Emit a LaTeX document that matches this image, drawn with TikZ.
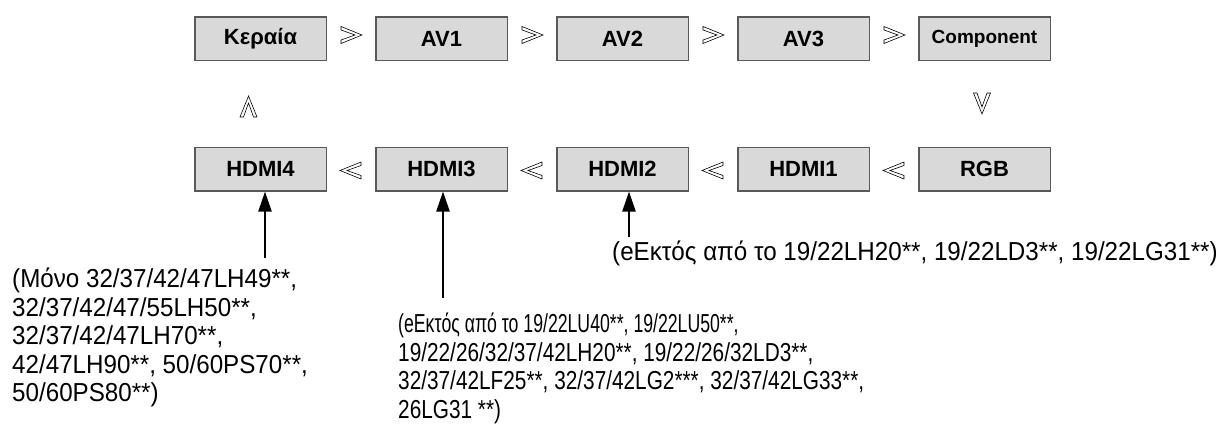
\documentclass[tikz,border=0pt]{standalone}
\usepackage{fontspec}
\setmainfont{Liberation Sans}
\newfontfamily\notefont[FakeStretch=0.93]{Liberation Sans}
\newfontfamily\notefontnarrow[FakeStretch=0.8]{Liberation Sans}
\newfontfamily\notefontslim[FakeStretch=0.68]{Liberation Sans}
\usepackage{tikz}
\usetikzlibrary{arrows.meta,positioning,calc}
\definecolor{boxGray}{HTML}{D9D9D9}
\definecolor{boxLine}{HTML}{595959}

\tikzset{
  pics/chevron/.style={code={
    \draw[line width=0.6pt, fill=white] (-10,-8.5) -- (11,0) -- (-10,8.5) -- (-10,5) -- (4,0) -- (-10,-5) -- cycle;
  }}
}

\begin{document}
\begin{tikzpicture}[x=1pt, y=-1pt, font=\bfseries\fontsize{22}{24}\selectfont,
    srcbox/.style={draw=boxLine, line width=1.5pt, fill=boxGray, minimum width=131.5pt, minimum height=43.5pt, inner sep=0pt},
    note/.style={align=left, inner sep=0pt, anchor=north west, font=\notefont\fontsize{26}{28.5}\selectfont},
    feed/.style={line width=2.2pt, -{Triangle[length=20pt, width=13pt]}}]
    \useasboundingbox (0,0) rectangle (1231,441);
    % source order, top row
    \node[srcbox] (kera) at (260.5,39) {Κεραία};
    \node[srcbox, right=48pt of kera] (av1) {AV1};
    \node[srcbox, right=48pt of av1] (av2) {AV2};
    \node[srcbox, right=48pt of av2] (av3) {AV3};
    \node[srcbox, right=48pt of av3, font=\bfseries\fontsize{19}{21}\selectfont] (comp) {Component};
    % bottom row
    \node[srcbox, below=85pt of kera] (hdmi4) {HDMI4};
    \node[srcbox, right=48pt of hdmi4] (hdmi3) {HDMI3};
    \node[srcbox, right=48pt of hdmi3] (hdmi2) {HDMI2};
    \node[srcbox, right=48pt of hdmi2] (hdmi1) {HDMI1};
    \node[srcbox, right=48pt of hdmi1] (rgb) {RGB};
    % chevrons
    \pic at ($(kera.east)!.5!(av1.west)+(0,-4)$) {chevron};
    \pic at ($(av1.east)!.5!(av2.west)+(0,-4)$) {chevron};
    \pic at ($(av2.east)!.5!(av3.west)+(0,-4)$) {chevron};
    \pic at ($(av3.east)!.5!(comp.west)+(0,-4)$) {chevron};
    \pic[rotate=-90] at ($(comp.south)!.5!(rgb.north)+(-2.5,-1)$) {chevron};
    \pic[rotate=180] at ($(rgb.west)!.5!(hdmi1.east)+(0,1.5)$) {chevron};
    \pic[rotate=180] at ($(hdmi1.west)!.5!(hdmi2.east)+(0,1.5)$) {chevron};
    \pic[rotate=180] at ($(hdmi2.west)!.5!(hdmi3.east)+(0,1.5)$) {chevron};
    \pic[rotate=180] at ($(hdmi3.west)!.5!(hdmi4.east)+(0,1.5)$) {chevron};
    \pic[rotate=90] at ($(hdmi4.north)!.5!(kera.south)+(-12,3)$) {chevron};
    % notes
    \node[note] (n4) at (12,268) {(Μόνο 32/37/42/47LH49**,\\32/37/42/47/55LH50**,\\32/37/42/47LH70**,\\42/47LH90**, 50/60PS70**,\\50/60PS80**)};
    \node[note, font=\notefontnarrow\fontsize{26}{28.5}\selectfont] (n3) at (398,313) {{\notefontslim(eΕκτός από το 19/22LU40**, 19/22LU50**,}\\19/22/26/32/37/42LH20**, 19/22/26/32LD3**,\\32/37/42LF25**, 32/37/42LG2***, 32/37/42LG33**,\\26LG31 **)};
    \node[note] (n2) at (612,241) {(eΕκτός από το 19/22LH20**, 19/22LD3**, 19/22LG31**)};
    \coordinate (t4) at (265,258);
    \coordinate (t3) at (443,298);
    \coordinate (t2) at (629,237);
    \draw[feed] (t4) -- (t4 |- hdmi4.south);
    \draw[feed] (t3) -- (t3 |- hdmi3.south);
    \draw[feed] (t2) -- (t2 |- hdmi2.south);
\end{tikzpicture}
\end{document}
